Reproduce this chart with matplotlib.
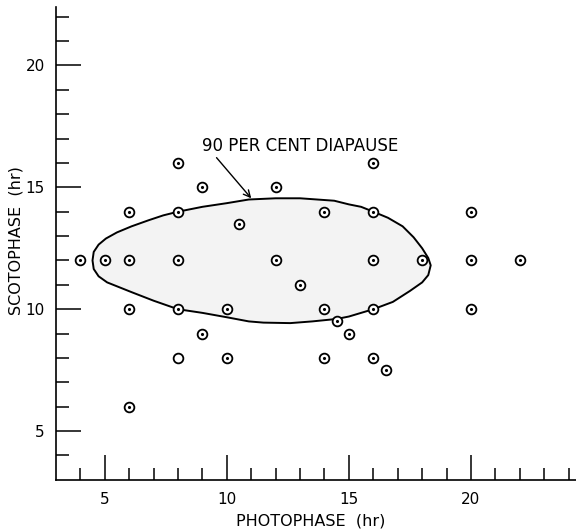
import numpy as np
import matplotlib.pyplot as plt
from matplotlib.patches import Polygon

# test points: photophase (hr), scotophase (hr)
photo = [4, 5, 6, 8, 12, 16, 18, 20, 22,
         8, 16, 9, 12, 6, 8, 14, 16, 20, 10.5, 13,
         6, 8, 10, 14, 16, 20, 14.5, 9, 15,
         10, 14, 16, 16.5, 6]
scoto = [12, 12, 12, 12, 12, 12, 12, 12, 12,
         16, 16, 15, 15, 14, 14, 14, 14, 14, 13.5, 11,
         10, 10, 10, 10, 10, 10, 9.5, 9, 9,
         8, 8, 8, 7.5, 6]
# point drawn without the centre dot
photo_open = [8]
scoto_open = [8]

# 90 per cent diapause boundary
cx = [4.5, 4.55, 4.75, 5.05, 5.5, 6.1, 6.8, 7.4, 8.0, 9.0, 10.0, 10.9, 12.0, 13.0,
      13.7, 14.4, 15.0, 15.5, 16.0, 16.6, 17.2, 17.65, 18.0, 18.25, 18.35, 18.25,
      18.0, 17.5, 16.8, 16.0, 15.0, 14.5, 13.5, 12.6, 11.5, 10.9, 10.0, 9.0, 8.0,
      7.0, 6.1, 5.6, 5.1, 4.75, 4.55]
cy = [12.0, 12.35, 12.65, 12.9, 13.15, 13.4, 13.65, 13.85, 14.0, 14.2, 14.35, 14.5, 14.55, 14.55,
      14.5, 14.45, 14.3, 14.2, 14.0, 13.75, 13.4, 12.95, 12.5, 12.1, 11.8, 11.4,
      11.1, 10.75, 10.3, 10.0, 9.7, 9.6, 9.5, 9.43, 9.45, 9.5, 9.67, 9.85, 10.0,
      10.35, 10.7, 10.9, 11.1, 11.35, 11.65]

fig = plt.figure(figsize=(5.76, 5.32), dpi=100)
ax = fig.add_axes([0.097, 0.098, 0.903, 0.889])

ax.add_patch(Polygon(np.column_stack([cx, cy]), closed=True, facecolor='#f3f3f3',
                     edgecolor='black', linewidth=1.4, joinstyle='round', zorder=1))

ax.plot(photo, scoto, 'o', ms=7, mfc='white', mec='black', mew=1.3, zorder=3)
ax.plot(photo, scoto, '.', ms=2.5, color='black', zorder=4)
ax.plot(photo_open, scoto_open, 'o', ms=7, mfc='white', mec='black', mew=1.3, zorder=5)

ax.annotate('90 PER CENT DIAPAUSE', xy=(11.0, 14.55), xytext=(9.0, 16.7),
            fontsize=12, ha='left', va='center',
            arrowprops=dict(arrowstyle='->', lw=1.0, color='black',
                            shrinkA=0, shrinkB=0, relpos=(0.06, 0.0)))

ax.set_xlim(3, 24.3)
ax.set_ylim(3, 22.4)
ax.spines['top'].set_visible(False)
ax.spines['right'].set_visible(False)
for s in ['left', 'bottom']:
    ax.spines[s].set_linewidth(1.2)

ax.set_xticks([5, 10, 15, 20])
ax.set_yticks([5, 10, 15, 20])
ax.set_xticks(np.arange(4, 25), minor=True)
ax.set_yticks(np.arange(4, 23), minor=True)
ax.tick_params(which='major', direction='in', length=18, width=1.1, labelsize=11)
ax.tick_params(which='minor', direction='in', length=9, width=1.1)
ax.tick_params(axis='x', which='major', pad=9)
ax.tick_params(axis='y', which='major', pad=8)

ax.set_xlabel('PHOTOPHASE  (hr)', fontsize=11.5)
ax.set_ylabel('SCOTOPHASE  (hr)', fontsize=11.5)
ax.xaxis.set_label_coords(0.49, -0.072)
ax.yaxis.set_label_coords(-0.062, 0.505)

fig.savefig('out.png', dpi=100)
